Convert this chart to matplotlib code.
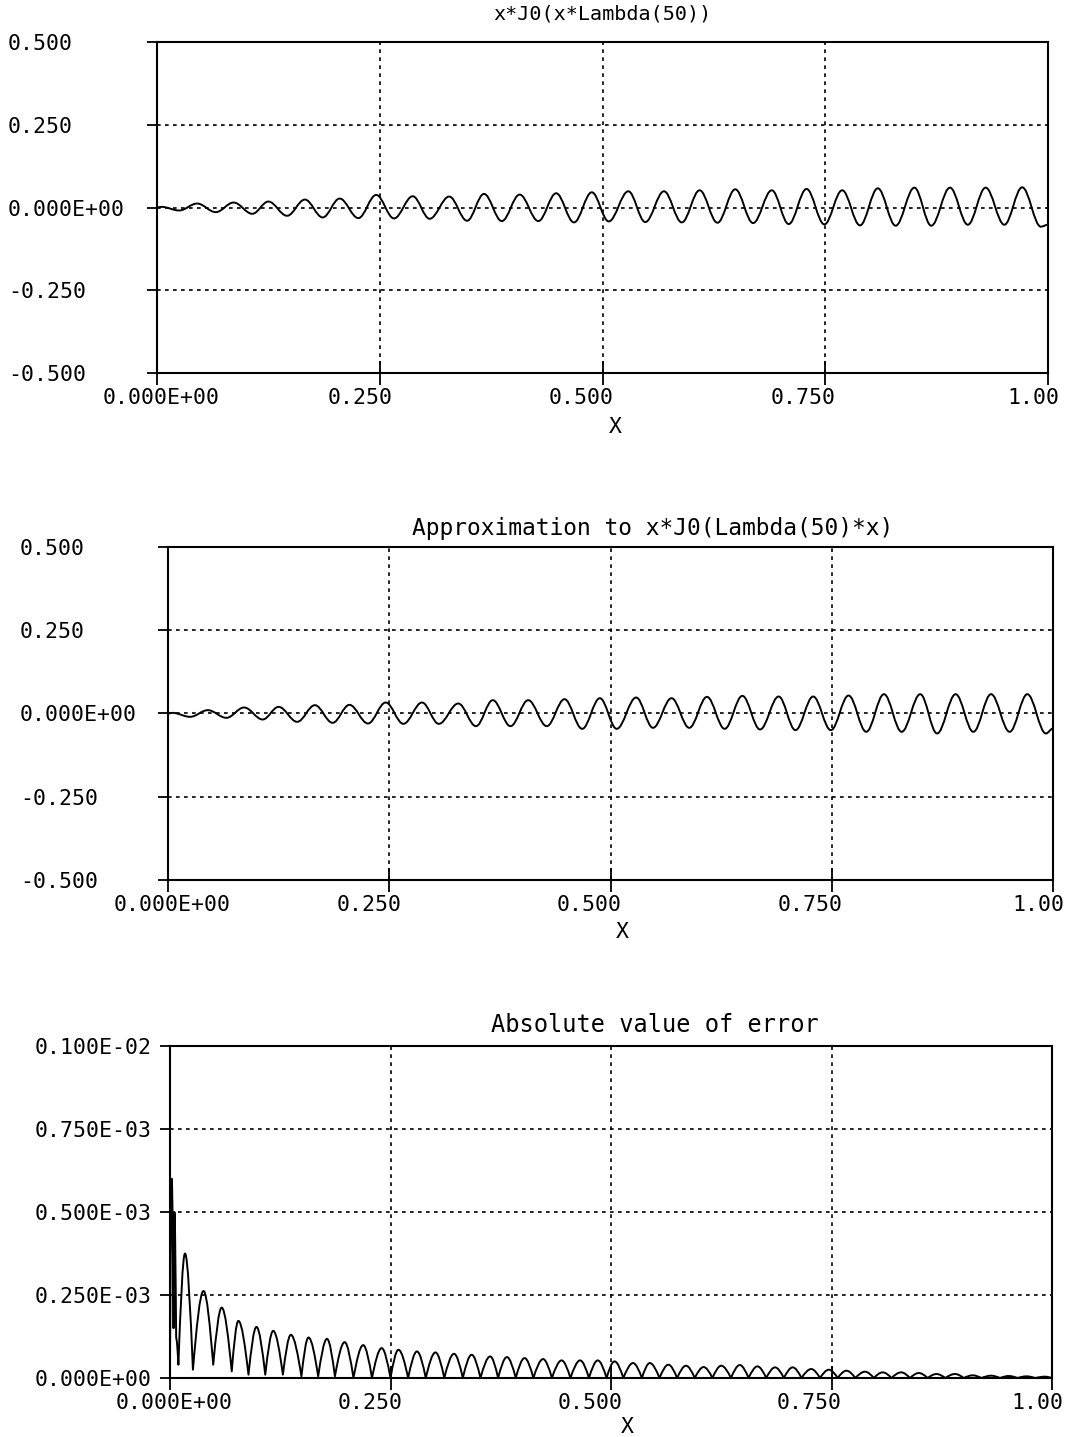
import numpy as np
import matplotlib
matplotlib.use("Agg")
import matplotlib.pyplot as plt
from matplotlib.path import Path
from matplotlib.patches import PathPatch
import matplotlib.transforms as mtransforms

# ---------------- data ----------------
# x positions of the successive extrema of the oscillation (panels 1 and 2)
extrema_x = [0.000, 0.005, 0.025, 0.045, 0.066, 0.086, 0.107, 0.125, 0.146, 0.166,
             0.186, 0.205, 0.226, 0.246, 0.266, 0.287, 0.306, 0.328, 0.348, 0.367,
             0.387, 0.407, 0.428, 0.448, 0.468, 0.488, 0.507, 0.529, 0.548, 0.569,
             0.589, 0.609, 0.629, 0.649, 0.669, 0.690, 0.709, 0.729, 0.749, 0.769,
             0.789, 0.809, 0.829, 0.850, 0.869, 0.890, 0.910, 0.930, 0.951, 0.971,
             0.992, 1.000]

# panel 1: x*J0(x*Lambda(50)) values at those extrema
exact_y = [0.000, 0.002, -0.009, 0.012, -0.014, 0.015, -0.019, 0.018, -0.025, 0.024,
           -0.030, 0.027, -0.032, 0.038, -0.033, 0.034, -0.034, 0.033, -0.040, 0.041,
           -0.041, 0.039, -0.041, 0.043, -0.045, 0.046, -0.042, 0.049, -0.044, 0.049,
           -0.045, 0.052, -0.046, 0.055, -0.047, 0.052, -0.050, 0.056, -0.051, 0.052,
           -0.054, 0.058, -0.055, 0.060, -0.055, 0.060, -0.052, 0.060, -0.052, 0.061,
           -0.058, -0.052]

# panel 2: approximation values at those extrema
approx_y = [0.000, 0.002, -0.010, 0.010, -0.013, 0.018, -0.018, 0.020, -0.025, 0.025,
            -0.028, 0.026, -0.030, 0.033, -0.031, 0.033, -0.031, 0.030, -0.038, 0.040,
            -0.038, 0.040, -0.038, 0.043, -0.046, 0.046, -0.046, 0.048, -0.043, 0.046,
            -0.043, 0.050, -0.046, 0.053, -0.048, 0.051, -0.050, 0.051, -0.050, 0.054,
            -0.055, 0.058, -0.055, 0.058, -0.060, 0.058, -0.055, 0.058, -0.055, 0.058,
            -0.060, -0.045]

# panel 3: absolute error, successive troughs / peaks (units of 1e-3)
error_x = [0.000, 0.002, 0.004, 0.005, 0.007, 0.0095, 0.017, 0.026, 0.038, 0.049,
           0.0586, 0.070, 0.0775, 0.089, 0.098, 0.108, 0.117, 0.128, 0.137, 0.149,
           0.157, 0.168, 0.178, 0.187, 0.198, 0.208, 0.219, 0.229, 0.240, 0.250,
           0.259, 0.270, 0.280, 0.290, 0.301, 0.311, 0.322, 0.332, 0.342, 0.352,
           0.363, 0.372, 0.382, 0.392, 0.402, 0.412, 0.423, 0.433, 0.444, 0.454,
           0.465, 0.475, 0.485, 0.495, 0.504, 0.514, 0.525, 0.535, 0.544, 0.555,
           0.565, 0.575, 0.585, 0.595, 0.605, 0.615, 0.625, 0.636, 0.646, 0.656,
           0.666, 0.676, 0.686, 0.696, 0.706, 0.716, 0.727, 0.737, 0.747, 0.757,
           0.767, 0.777, 0.788, 0.798, 0.808, 0.818, 0.829, 0.839, 0.849, 0.859,
           0.869, 0.879, 0.890, 0.900, 0.910, 0.920, 0.931, 0.941, 0.951, 0.961,
           0.971, 0.981, 0.992, 1.000]
error_y_e3 = [0.05, 0.60, 0.15, 0.50, 0.12, 0.04, 0.375, 0.025, 0.262, 0.04,
              0.212, 0.02, 0.172, 0.01, 0.154, 0.01, 0.142, 0.01, 0.130, 0.005,
              0.122, 0.005, 0.118, 0.005, 0.108, 0.0, 0.099, 0.0, 0.090, 0.0,
              0.085, 0.0, 0.080, 0.0, 0.077, 0.0, 0.073, 0.0, 0.070, 0.0,
              0.065, 0.0, 0.063, 0.0, 0.060, 0.0, 0.057, 0.0, 0.053, 0.0,
              0.053, 0.0, 0.053, 0.0, 0.050, 0.0, 0.045, 0.0, 0.045, 0.0,
              0.040, 0.0, 0.037, 0.0, 0.033, 0.0, 0.037, 0.0, 0.039, 0.0,
              0.035, 0.0, 0.032, 0.0, 0.032, 0.0, 0.027, 0.0, 0.025, 0.0,
              0.022, 0.0, 0.019, 0.0, 0.017, 0.0, 0.017, 0.0, 0.015, 0.0,
              0.012, 0.0, 0.012, 0.0, 0.008, 0.0, 0.007, 0.0, 0.006, 0.0,
              0.005, 0.0, 0.004, 0.0]

x_ticks = [0.0, 0.25, 0.5, 0.75, 1.0]
x_ticklabels = ["0.000E+00", "0.250", "0.500", "0.750", "1.00"]
y_ticks = [-0.5, -0.25, 0.0, 0.25, 0.5]
y_ticklabels = ["-0.500", "-0.250", "0.000E+00", "0.250", "0.500"]
err_ticks = [0.0, 0.25e-3, 0.5e-3, 0.75e-3, 1.0e-3]
err_ticklabels = ["0.000E+00", "0.250E-03", "0.500E-03", "0.750E-03", "0.100E-02"]

titles = ["x*J0(x*Lambda(50))",
          "Approximation to x*J0(Lambda(50)*x)",
          "Absolute value of error"]

# ---------------- styling ----------------
plt.rcParams['font.family'] = ['DejaVu Sans Mono', 'DejaVu Sans']
W, H = 1069, 1437
DPI = 100
fig = plt.figure(figsize=(W / DPI, H / DPI), dpi=DPI)
fig.patch.set_facecolor('white')


def rect(left, right, top, bottom):
    return [left / W, 1 - bottom / H, (right - left) / W, (bottom - top) / H]


def wave_path(xs, ys):
    verts = [(xs[0], ys[0])]
    codes = [Path.MOVETO]
    for i in range(len(xs) - 1):
        x0, y0, x1, y1 = xs[i], ys[i], xs[i + 1], ys[i + 1]
        dx = x1 - x0
        verts += [(x0 + 0.364 * dx, y0), (x1 - 0.364 * dx, y1), (x1, y1)]
        codes += [Path.CURVE4] * 3
    return Path(verts, codes)


def arch_path(xs, ys):
    verts = [(xs[0], ys[0])]
    codes = [Path.MOVETO]
    for i in range(len(xs) - 1):
        x0, y0, x1, y1 = xs[i], ys[i], xs[i + 1], ys[i + 1]
        dx = x1 - x0
        if y1 >= y0:
            c1 = (x0 + 0.326 * dx, y0 + 0.512 * (y1 - y0))
            c2 = (x0 + 0.658 * dx, y1)
        else:
            c1 = (x0 + 0.342 * dx, y0)
            c2 = (x0 + 0.674 * dx, y1 + 0.512 * (y0 - y1))
        verts += [c1, c2, (x1, y1)]
        codes += [Path.CURVE4] * 3
    return Path(verts, codes)


panels = [
    dict(rect=rect(157, 1048, 42, 373), ylab_x=8, title_xy=(0.50, 1.085),
         xlabel_xy=(0.514, -0.133), title_size=14.5),
    dict(rect=rect(168, 1053, 547, 880), ylab_x=20, title_xy=(0.548, 1.057),
         xlabel_xy=(0.513, -0.126), title_size=16.5),
    dict(rect=rect(170, 1052, 1046, 1378), ylab_x=35, title_xy=(0.55, 1.063),
         xlabel_xy=(0.518, -0.117), title_size=17),
]
xlabel_offsets_px = [4, -20, -21, -22, -15]
TICK_FS = 15.5
LEFT_TICK_LEN = 7

for k, p in enumerate(panels):
    ax = fig.add_axes(p['rect'])
    ax.set_xlim(0, 1)
    ax.set_xticks(x_ticks)
    ax.set_xticklabels(x_ticklabels, fontsize=TICK_FS)
    if k < 2:
        ax.set_ylim(-0.5, 0.5)
        ax.set_yticks(y_ticks)
        ax.set_yticklabels(y_ticklabels, fontsize=TICK_FS)
        ys = exact_y if k == 0 else approx_y
        path = wave_path(extrema_x, ys)
    else:
        ax.set_ylim(0, 1.0e-3)
        ax.set_yticks(err_ticks)
        ax.set_yticklabels(err_ticklabels, fontsize=TICK_FS)
        ys = [v * 1e-3 for v in error_y_e3]
        path = arch_path(error_x, ys)

    ax.add_patch(PathPatch(path, fill=False, edgecolor='black', lw=1.4,
                           transform=ax.transData, joinstyle='round'))

    ax.grid(True, color='black', linestyle=(0, (2.2, 2.6)), linewidth=1.2)
    ax.set_axisbelow(True)
    for s in ax.spines.values():
        s.set_linewidth(1.5)
        s.set_color('black')

    spine_left_px = p['rect'][0] * W
    pad_pt = (spine_left_px - p['ylab_x']) * 72 / DPI - LEFT_TICK_LEN
    ax.tick_params(axis='y', direction='out', length=LEFT_TICK_LEN, width=1.3,
                   pad=pad_pt, colors='black')
    ax.tick_params(axis='x', direction='inout', length=17, width=1.3, pad=2,
                   colors='black')
    for lbl in ax.get_yticklabels():
        lbl.set_horizontalalignment('left')
    ax.xaxis.get_major_ticks()
    for lbl, dx in zip(ax.get_xticklabels(), xlabel_offsets_px):
        lbl.set_transform(lbl.get_transform() +
                          mtransforms.ScaledTranslation(dx / DPI, 0, fig.dpi_scale_trans))

    ax.set_xlabel('X', fontsize=TICK_FS)
    ax.xaxis.set_label_coords(*p['xlabel_xy'])
    ax.text(p['title_xy'][0], p['title_xy'][1], titles[k], transform=ax.transAxes,
            ha='center', va='center', fontsize=p['title_size'])

fig.savefig('out.png', dpi=DPI, facecolor='white')
